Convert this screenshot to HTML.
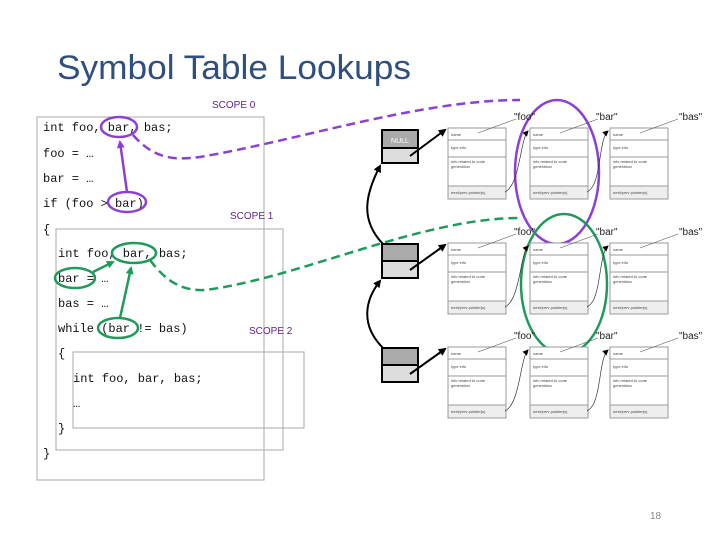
<!DOCTYPE html>
<html><head><meta charset="utf-8"><style>
html,body{margin:0;padding:0;background:#fff;width:720px;height:540px;overflow:hidden}
svg{display:block}
.code{font-family:"Liberation Mono",monospace;font-size:12px;fill:#111}
.sc{font-family:"Liberation Sans",sans-serif;font-size:10px;fill:#5a1f8a}
.rt{font-family:"Liberation Sans",sans-serif;font-size:4px;fill:#444}
.lb{font-family:"Liberation Sans",sans-serif;font-size:10px;fill:#222}
</style></head><body>
<svg width="720" height="540" viewBox="0 0 720 540" xmlns="http://www.w3.org/2000/svg">
<defs>
<marker id="ab" markerWidth="8" markerHeight="8" refX="6" refY="4" orient="auto" markerUnits="userSpaceOnUse"><path d="M0,0 L8,4 L0,8 z" fill="#000"/></marker>
<marker id="as" markerWidth="6" markerHeight="6" refX="5" refY="3" orient="auto" markerUnits="userSpaceOnUse"><path d="M0,0 L6,3 L0,6 z" fill="#000"/></marker>
<marker id="ap" markerWidth="8" markerHeight="8" refX="6" refY="4" orient="auto" markerUnits="userSpaceOnUse"><path d="M0,0 L8,4 L0,8 z" fill="#8b3fd6"/></marker>
<marker id="ag" markerWidth="8" markerHeight="8" refX="6" refY="4" orient="auto" markerUnits="userSpaceOnUse"><path d="M0,0 L8,4 L0,8 z" fill="#1f9a5a"/></marker>
<g id="rec">
<rect x="0" y="0" width="58" height="71" fill="#fff" stroke="#999" stroke-width="1"/>
<rect x="0.5" y="58" width="57" height="12.5" fill="#eee"/>
<line x1="0" y1="12" x2="58" y2="12" stroke="#999"/>
<line x1="0" y1="29" x2="58" y2="29" stroke="#999"/>
<line x1="0" y1="58" x2="58" y2="58" stroke="#999"/>
<line x1="30" y1="5" x2="68" y2="-9" stroke="#555" stroke-width="0.6"/>
</g>
</defs>

<text x="57" y="79" font-family="Liberation Sans, sans-serif" font-size="34" fill="#2f4f7f" textLength="354" lengthAdjust="spacingAndGlyphs">Symbol Table Lookups</text>

<!-- scope boxes -->
<rect x="37" y="117" width="227" height="363" fill="none" stroke="#aaa" stroke-width="1"/>
<rect x="56" y="229" width="227" height="221" fill="none" stroke="#aaa" stroke-width="1"/>
<rect x="73" y="352" width="231" height="76" fill="none" stroke="#aaa" stroke-width="1"/>
<text class="sc" x="212" y="108">SCOPE 0</text>
<text class="sc" x="230" y="219">SCOPE 1</text>
<text class="sc" x="249" y="334">SCOPE 2</text>

<!-- code -->
<text class="code" x="43" y="131">int foo, bar, bas;</text>
<text class="code" x="43" y="157">foo = …</text>
<text class="code" x="43" y="182">bar = …</text>
<text class="code" x="43" y="207">if (foo &gt; bar)</text>
<text class="code" x="43" y="233">{</text>
<text class="code" x="58" y="257">int foo, bar, bas;</text>
<text class="code" x="58" y="282">bar = …</text>
<text class="code" x="58" y="307">bas = …</text>
<text class="code" x="58" y="332">while (bar != bas)</text>
<text class="code" x="58" y="357">{</text>
<text class="code" x="73" y="382">int foo, bar, bas;</text>
<text class="code" x="73" y="407">…</text>
<text class="code" x="58" y="432">}</text>
<text class="code" x="43" y="457">}</text>

<!-- purple ellipses & arrows -->
<g fill="none" stroke="#8b3fd6" stroke-width="2.5">
<ellipse cx="119" cy="127" rx="18" ry="10"/>
<ellipse cx="127" cy="202" rx="19" ry="10"/>
<line x1="127" y1="192" x2="120" y2="142" marker-end="url(#ap)"/>
<path d="M133,135 C155,160 175,160 200,157 C300,140 420,100 520,100" stroke-dasharray="9,5"/>
<ellipse cx="557" cy="172" rx="42" ry="72"/>
</g>
<!-- green -->
<g fill="none" stroke="#1f9a5a" stroke-width="2.5">
<ellipse cx="134" cy="253" rx="22" ry="10"/>
<ellipse cx="75" cy="278" rx="20" ry="10"/>
<ellipse cx="118" cy="328" rx="20" ry="10"/>
<line x1="93" y1="272" x2="113" y2="262" marker-end="url(#ag)"/>
<line x1="120" y1="318" x2="131" y2="268" marker-end="url(#ag)"/>
<path d="M150,260 C165,280 180,291 205,290 C300,278 420,218 520,218" stroke-dasharray="9,5"/>
<ellipse cx="564" cy="284" rx="43" ry="70"/>
</g>

<!-- NULL boxes -->
<g stroke="#000" stroke-width="2">
<rect x="382" y="130" width="36" height="18" fill="#aaa"/><rect x="382" y="148" width="36" height="15" fill="#ddd"/>
<rect x="382" y="244" width="36" height="17" fill="#aaa"/><rect x="382" y="261" width="36" height="17" fill="#ddd"/>
<rect x="382" y="348" width="36" height="17" fill="#aaa"/><rect x="382" y="365" width="36" height="17" fill="#ddd"/>
</g>
<text x="400" y="143" font-family="Liberation Sans, sans-serif" font-size="7" fill="#fff" text-anchor="middle">NULL</text>
<g stroke="#000" stroke-width="2" fill="none">
<line x1="410" y1="156" x2="445" y2="130" marker-end="url(#ab)"/>
<line x1="410" y1="270" x2="445" y2="245" marker-end="url(#ab)"/>
<line x1="410" y1="374" x2="445" y2="349" marker-end="url(#ab)"/>
<path d="M383,244 C360,220 365,195 380,166" marker-end="url(#ab)"/>
<path d="M383,348 C360,325 365,300 380,281" marker-end="url(#ab)"/>
</g>

<!-- records -->
<g id="rows">
<use href="#rec" x="448" y="128"/><use href="#rec" x="530" y="128"/><use href="#rec" x="610" y="128"/>
<use href="#rec" x="448" y="243"/><use href="#rec" x="530" y="243"/><use href="#rec" x="610" y="243"/>
<use href="#rec" x="448" y="347"/><use href="#rec" x="530" y="347"/><use href="#rec" x="610" y="347"/>
</g>
<g fill="none" stroke="#333" stroke-width="0.7">
<path d="M505,192 C520,185 520,140 528,131" marker-end="url(#as)"/>
<path d="M587,192 C602,185 598,140 608,131" marker-end="url(#as)"/>
<path d="M505,307 C520,300 520,255 528,246" marker-end="url(#as)"/>
<path d="M587,307 C602,300 598,255 608,246" marker-end="url(#as)"/>
<path d="M505,411 C520,404 520,359 528,350" marker-end="url(#as)"/>
<path d="M587,411 C602,404 598,359 608,350" marker-end="url(#as)"/>
</g>
<g class="rt">
<text class="rt" x="451" y="136">name</text><text class="rt" x="451" y="149">type info</text><text class="rt" x="451" y="163">info related to code</text><text class="rt" x="451" y="168">generation</text><text class="rt" x="451" y="194">next/prev pointer(s)</text>
<text class="rt" x="533" y="136">name</text><text class="rt" x="533" y="149">type info</text><text class="rt" x="533" y="163">info related to code</text><text class="rt" x="533" y="168">generation</text><text class="rt" x="533" y="194">next/prev pointer(s)</text>
<text class="rt" x="613" y="136">name</text><text class="rt" x="613" y="149">type info</text><text class="rt" x="613" y="163">info related to code</text><text class="rt" x="613" y="168">generation</text><text class="rt" x="613" y="194">next/prev pointer(s)</text>
<text class="rt" x="451" y="251">name</text><text class="rt" x="451" y="264">type info</text><text class="rt" x="451" y="278">info related to code</text><text class="rt" x="451" y="283">generation</text><text class="rt" x="451" y="309">next/prev pointer(s)</text>
<text class="rt" x="533" y="251">name</text><text class="rt" x="533" y="264">type info</text><text class="rt" x="533" y="278">info related to code</text><text class="rt" x="533" y="283">generation</text><text class="rt" x="533" y="309">next/prev pointer(s)</text>
<text class="rt" x="613" y="251">name</text><text class="rt" x="613" y="264">type info</text><text class="rt" x="613" y="278">info related to code</text><text class="rt" x="613" y="283">generation</text><text class="rt" x="613" y="309">next/prev pointer(s)</text>
<text class="rt" x="451" y="355">name</text><text class="rt" x="451" y="368">type info</text><text class="rt" x="451" y="382">info related to code</text><text class="rt" x="451" y="387">generation</text><text class="rt" x="451" y="413">next/prev pointer(s)</text>
<text class="rt" x="533" y="355">name</text><text class="rt" x="533" y="368">type info</text><text class="rt" x="533" y="382">info related to code</text><text class="rt" x="533" y="387">generation</text><text class="rt" x="533" y="413">next/prev pointer(s)</text>
<text class="rt" x="613" y="355">name</text><text class="rt" x="613" y="368">type info</text><text class="rt" x="613" y="382">info related to code</text><text class="rt" x="613" y="387">generation</text><text class="rt" x="613" y="413">next/prev pointer(s)</text>
</g>
<text class="lb" x="514" y="120">"foo"</text><text class="lb" x="596" y="120">"bar"</text><text class="lb" x="679" y="120">"bas"</text>
<text class="lb" x="514" y="235">"foo"</text><text class="lb" x="596" y="235">"bar"</text><text class="lb" x="679" y="235">"bas"</text>
<text class="lb" x="514" y="339">"foo"</text><text class="lb" x="596" y="339">"bar"</text><text class="lb" x="679" y="339">"bas"</text>

<text x="650" y="519" font-family="Liberation Sans, sans-serif" font-size="10" fill="#888">18</text>
</svg>
</body></html>
